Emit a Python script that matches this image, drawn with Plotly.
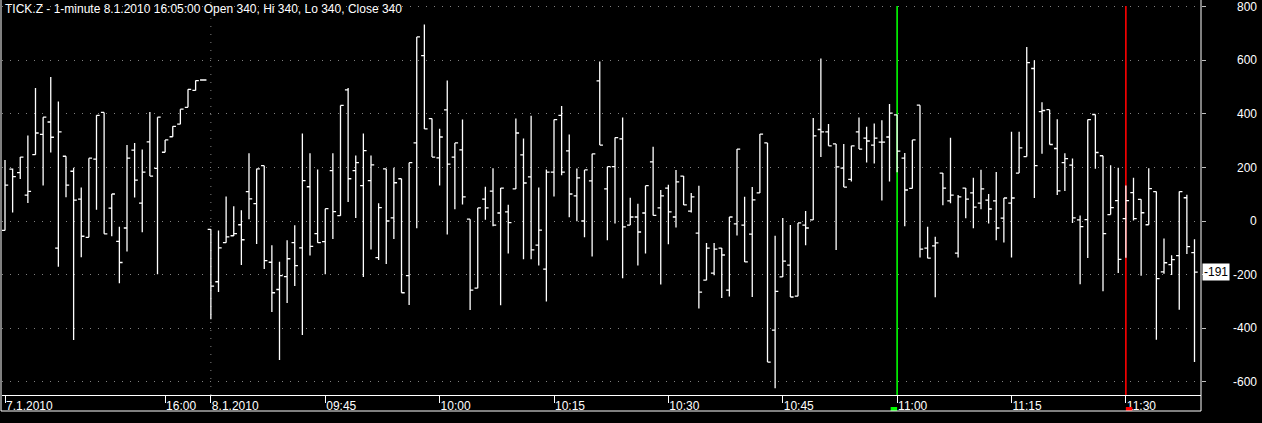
import plotly.graph_objects as go

# ---- data ----
day1_date = "7.1.2010"
day2_date = "8.1.2010"
day1_start = (15, 39)
day1_count = 27
day2_start = (9, 30)
day2_count = 130

opens = [-35, 194, 181, 97, 248, 324, 370, -101, 242, 186, 82, -61, 231, 406, 48, -76, -26, 265, 67, 296,
         197, 257, 315, 362, 425, 488, 527,
         -31, -227, -81, -55, -14, 110, 65, 207, -154, -256, -208, -81, -100, 128, -47, -77, 188, 20, 490,
         188, 132, 151, -137, 195, 12, 158, -204, 292, 618, 383, 236, 415, 239, 266, 7, -251, 82, 112, 30,
         34, 120, 247, 165, -90, -180, 183, 395, 262, 94, 0, 150, 524, 120, 203, 307, -15, 15, 30, 221,
         49, 123, 15, 168, 37, -45, -221, -195, -101, -258, -11, -15, -49, 105, 292, -408, -209, -165, -281,
         -15, 4, 342, 333, 288, 198, 156, 333, 310, 284, 295, 314, 397, 235, 122, 433, -101, -93, 179, 75,
         -120, 123, 105, 67, 78, 75, 11, 67, 179, 241, 570, 409, 416, 271, 218, 209, 4, 5, 398, 244, 24,
         76, 9, 106, 81, -14, 110, -190, -163, -129, 87, -118]
highs = [228, 196, 239, 320, 497, 388, 538, 447, 242, 199, 125, 235, 395, 406, 101, -21, 284, 292, 267, 407,
         388, 303, 354, 418, 492, 525, 527,
         -31, -35, 92, 55, 40, 253, 195, 207, -91, -152, -72, -16, 327, 253, 193, 46, 253, 432, 497,
         245, 327, 245, 66, 195, 199, 158, 218, 688, 734, 383, 345, 525, 292, 379, 7, 49, 128, 197, 123,
         61, 383, 308, 393, 125, 193, 379, 430, 323, 196, 191, 251, 596, 203, 312, 387, 87, 65, 132, 278,
         116, 136, 191, 168, 105, 132, -82, -82, -101, 15, 269, 91, 127, 325, 292, -55, 11, -15, -7,
         37, 385, 607, 363, 288, 288, 281, 387, 352, 364, 377, 437, 397, 254, 303, 433, -21, -59, 179, 311,
         97, 123, 162, 192, 101, 183, 86, 334, 334, 650, 601, 444, 416, 380, 253, 234, 21, 379, 398, 244, 208,
         199, 133, 162, 81, 197, 110, -65, -128, 110, 98, -68]
lows = [-35, 32, 157, 67, 248, 133, 256, -171, 89, -445, -135, -61, 42, -48, -57, -233, -114, 88, -42, 168,
        -199, 257, 315, 362, 425, 488, 527,
        -367, -265, -81, -56, -164, 7, -86, -179, -340, -519, -306, -243, -426, -129, -81, -199, -67, 20, 71,
        11, -209, -106, -146, -161, -67, -268, -314, -27, 344, 239, 133, -50, 44, 62, -333, -251, 5, -20, -315,
        -121, 120, -143, -143, -166, -301, 92, 171, 14, -1, -61, -133, 284, -72, -9, -214, -15, -166, -121, 21,
        -237, -87, -24, 60, 32, -327, -221, -203, -288, -282, -54, -153, -284, 105, -527, -625, -209, -284, -281,
        -91, 4, 239, 281, -108, 127, 148, 269, 219, 215, 77, 148, 182, -20, 122, -136, -139, -285, 59, 66,
        -136, 10, -27, 44, -9, -72, -80, -136, 179, 241, 86, 251, 286, 97, 112, -7, -236, -138, 195, -262, 24,
        -194, -137, 2, -205, -14, -444, -197, -202, -332, -123, -527]
closes = [134, 166, 239, 111, 329, 388, 313, 333, 134, 78, -57, 235, 395, -48, 101, -155, 235, 153, 183, 168,
          388, 303, 354, 418, 492, 525, 527,
          -243, -100, -59, -47, -70, 83, 195, -148, -268, -204, -141, -167, 151, -95, -81, 46, 35, 432, 158,
          218, 263, 210, 50, 0, 143, -268, 218, 688, 344, 239, 314, 213, 292, 90, -258, 49, 49, -15, 123,
          -6, 329, 142, -108, -34, 183, 379, 183, 101, 161, 191, 251, 284, 203, 312, -22, 15, -41, 132, 21,
          94, 34, 146, 60, 90, -266, -101, -105, -127, 15, 269, -153, 79, 325, -527, -263, -150, -284, -7,
          -26, 318, 333, 281, 202, 127, 281, 269, 299, 310, 295, 403, 261, 116, 303, -105, -139, -82, 123, 97,
          90, 82, 52, 120, 45, -26, 86, 86, 273, 592, 207, 413, 286, 113, 233, 12, -21, 379, 256, -47, 50,
          -143, 76, 9, 31, 121, -215, -156, -144, 110, -96, -191]

y_tick_values = [800, 600, 400, 200, 0, -200, -400, -600]
marker_green_time = "11:00"
marker_red_time = "11:30"
title_text = "TICK.Z - 1-minute 8.1.2010 16:05:00 Open 340, Hi 340, Lo 340, Close 340"

# ---- build time labels ----
def make_times(start, count):
    h, m = start
    out = []
    for _ in range(count):
        out.append(f"{h:02d}:{m:02d}")
        m += 1
        if m == 60:
            h, m = h + 1, 0
    return out

times = make_times(day1_start, day1_count) + make_times(day2_start, day2_count)
days = [day1_date] * day1_count + [day2_date] * day2_count
idx = list(range(len(times)))

tickvals, ticktext = [], []
for i, (t, d) in enumerate(zip(times, days)):
    if i == 0 or d != days[i - 1]:
        tickvals.append(i); ticktext.append(d)
    elif t[-2:] in ("00", "15", "30", "45"):
        if d == day1_date and t != "16:00":
            continue
        tickvals.append(i); ticktext.append(t)

day2_first = days.index(day2_date)
green_i = day2_first + times[day2_first:].index(marker_green_time)
red_i = day2_first + times[day2_first:].index(marker_red_time)

# ---- geometry helpers (pixel -> paper) ----
W, H = 1262, 423
ML, MR, MT, MB = 2, 61, 0, 28
PW, PH = W - ML - MR, H - MT - MB
def px(x):
    return (x - ML) / PW
def py(y):
    return (MT + PH - y) / PH

FONT = "Liberation Sans, Arial, sans-serif"

fig = go.Figure()
fig.add_trace(go.Ohlc(
    x=idx, open=opens, high=highs, low=lows, close=closes,
    increasing=dict(line=dict(color="white", width=1.3)),
    decreasing=dict(line=dict(color="white", width=1.3)),
    tickwidth=0.42, hoverinfo="skip", showlegend=False,
))

shapes = []
shapes.append(dict(type="line", xref="x", yref="paper", x0=day2_first, x1=day2_first, y0=0, y1=1,
                   line=dict(color="#808080", width=1, dash="1px,7px"), layer="below"))
for i, col, side in [(green_i, "#00ff00", -1), (red_i, "#ff0000", 1)]:
    shapes.append(dict(type="line", xref="x", yref="paper", x0=i, x1=i, y0=py(6), y1=0,
                       line=dict(color=col, width=1.6), layer="below"))
    shapes.append(dict(type="rect", xref="x", yref="paper", x0=i, x1=i + side * 0.85,
                       y0=py(407), y1=py(411), line=dict(width=0), fillcolor=col))
for (x0, y0, x1, y1) in [(1, 0, 1, 411), (1201, 0, 1201, 411), (1, 411, 1201, 411)]:
    shapes.append(dict(type="line", xref="paper", yref="paper", x0=px(x0), x1=px(x1), y0=py(y0), y1=py(y1),
                       line=dict(color="white", width=1)))

annotations = []
annotations.append(dict(text=title_text, xref="paper", yref="paper", x=px(3), y=py(9), xanchor="left",
                        yanchor="middle", showarrow=False, font=dict(family=FONT, size=12, color="white")))
for v in y_tick_values:
    annotations.append(dict(text=str(v), xref="paper", yref="y", x=px(1259), y=v, xanchor="right",
                            yanchor="middle", showarrow=False, font=dict(family=FONT, size=12, color="white")))
annotations.append(dict(text=str(closes[-1]), xref="paper", yref="y", x=px(1202), y=closes[-1], xanchor="left",
                        yanchor="middle", showarrow=False, bgcolor="white", borderpad=1,
                        font=dict(family=FONT, size=12, color="black")))

fig.update_layout(
    width=W, height=H,
    margin=dict(l=ML, r=MR, t=MT, b=MB, autoexpand=False),
    paper_bgcolor="black", plot_bgcolor="black",
    showlegend=False,
    shapes=shapes, annotations=annotations,
    xaxis=dict(range=[-3 / 7.625, (1201 - 5) / 7.625], rangeslider=dict(visible=False),
               tickmode="array", tickvals=tickvals, ticktext=ticktext, tickangle=0,
               ticks="outside", ticklen=7, tickcolor="white", tickwidth=1,
               ticklabelposition="outside right", automargin=False,
               tickfont=dict(family=FONT, size=12, color="white"),
               showgrid=False, zeroline=False, showline=True, linecolor="white", linewidth=1),
    yaxis=dict(range=[-650.2, 826], side="right", tickmode="array", tickvals=y_tick_values,
               showticklabels=False, ticks="outside", ticklen=4, tickcolor="#c0c0c0", automargin=False,
               showgrid=True, gridcolor="#808080", gridwidth=1, griddash="1px,7px",
               zeroline=False, showline=False),
)

fig.write_html("out.html", config={"displayModeBar": False},
               post_script="document.body.style.margin='0';document.body.style.overflow='hidden';"
                           "document.body.style.background='black';")
